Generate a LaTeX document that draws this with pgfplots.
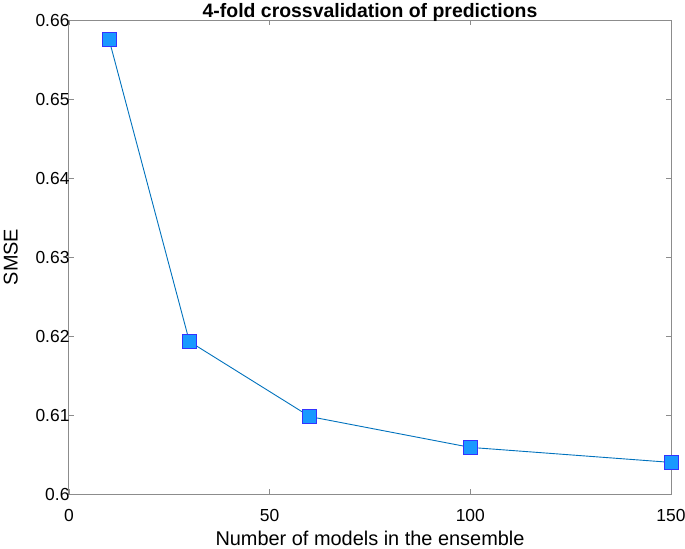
\documentclass[border=0pt]{standalone}
\usepackage{fontspec}
\setmainfont{Liberation Sans}
\usepackage{pgfplots}
\pgfplotsset{compat=1.18}
\definecolor{mline}{rgb}{0,0.447,0.741}
\definecolor{mfill}{rgb}{0.1,0.6,1}
\definecolor{medge}{rgb}{0.2,0.2,1}
\definecolor{axgray}{gray}{0.55}
\begin{document}
\begin{tikzpicture}
\useasboundingbox (-69bp,-55bp) rectangle (616bp,494bp);
\begin{axis}[
  at={(0,0)}, anchor=south west,
  scale only axis,
  width=602bp, height=474bp,
  xmin=0, xmax=150, ymin=0.6, ymax=0.66,
  xtick={0,50,100,150},
  ytick={0.6,0.61,0.62,0.63,0.64,0.65,0.66},
  yticklabels={0.6,0.61,0.62,0.63,0.64,0.65,0.66},
  xticklabels={0,50,100,150},
  /pgf/number format/assume math mode=true,
  tick align=inside,
  major tick length=5bp,
  axis line style={axgray, line width=1bp},
  tick style={axgray, line width=0.8bp},
  ticklabel style={font=\fontsize{17.5}{19}\selectfont, text=black},
  xticklabel style={yshift=-12bp},
  yticklabel style={xshift=4bp},
  xlabel={Number of models in the ensemble},
  ylabel={SMSE},
  xlabel style={font=\fontsize{20}{22}\selectfont, at={(0.5,0)}, anchor=base, yshift=-51bp},
  ylabel style={font=\fontsize{20}{22}\selectfont, yshift=11bp},
  title={\textbf{4-fold crossvalidation of predictions}},
  title style={font=\fontsize{19.5}{22}\selectfont, at={(0.5,1)}, anchor=base, yshift=-3bp},
  clip=false,
]
\addplot[color=mline, line width=0.9bp, mark=square*,
  mark size=7bp, mark options={fill=mfill, draw=medge, line width=0.9bp}]
  coordinates {(10,0.6575) (30,0.6193) (60,0.6098) (100,0.6059) (150,0.6040)};
\end{axis}
\end{tikzpicture}
\end{document}
